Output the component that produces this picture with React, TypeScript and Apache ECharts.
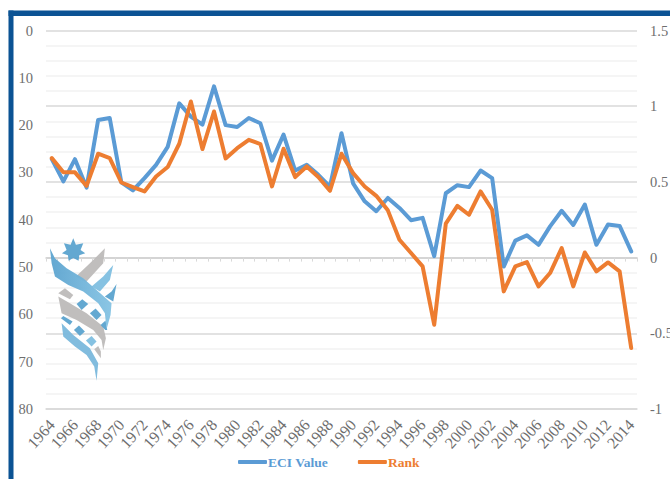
import React, { useEffect, useRef } from "react";
import * as echarts from "echarts";

const years = ["1964","1965","1966","1967","1968","1969","1970","1971","1972","1973","1974","1975","1976","1977","1978","1979","1980","1981","1982","1983","1984","1985","1986","1987","1988","1989","1990","1991","1992","1993","1994","1995","1996","1997","1998","1999","2000","2001","2002","2003","2004","2005","2006","2007","2008","2009","2010","2011","2012","2013","2014"];
const eciValue = [27.2,31.9,27.2,33.2,18.9,18.5,32.1,33.8,31.2,28.4,24.6,15.4,18.2,19.9,11.8,20,20.4,18.5,19.6,27.5,22,29.6,28.4,30.5,33,21.7,32.3,36.1,38.2,35.4,37.5,40.1,39.6,47.7,34.4,32.7,33.1,29.6,31.2,49.9,44.4,43.3,45.3,41.4,38.1,41.1,36.8,45.3,41,41.3,46.7];
const rank = [0.657,0.563,0.563,0.474,0.686,0.657,0.496,0.466,0.437,0.536,0.598,0.752,1.031,0.717,0.965,0.655,0.723,0.778,0.75,0.47,0.719,0.532,0.602,0.532,0.441,0.686,0.558,0.47,0.408,0.312,0.118,0.03,-0.058,-0.443,0.224,0.342,0.283,0.437,0.316,-0.223,-0.058,-0.03,-0.19,-0.102,0.063,-0.19,0.034,-0.091,-0.032,-0.091,-0.597];

const BLUE = "#5B9BD5";
const ORANGE = "#ED7D31";
const FRAME = "#0B5394";
const LABEL = "#6E6E6E";
const FONT = "'Liberation Serif', serif";

const logoPieces: [number[][], any][] = [
  [[[315,55],[310,100],[258,157],[228,140],[270,100]], "#BDBBB9"],
  [[[340,105],[330,150],[300,185],[275,170],[310,140]], "#7FBFE0"],
  [[[350,162],[340,215],[315,200],[335,185]], "#5BA3CF"],
  [[[175,190],[195,175],[220,195],[210,208]], "#BDBBB9"],
  [[[175,200],[210,220],[260,250],[310,290],[318,325],[310,360],[305,330],[280,300],[230,270],[185,250]], "#BDBBB9"],
  [[[230,222],[247,208],[265,222],[245,240]], "#5BA3CF"],
  [[[270,250],[287,236],[305,255],[290,270]], "#5BA3CF"],
  [[[302,285],[317,272],[322,300],[316,300]], "#5BA3CF"],
  [[[183,265],[190,258],[218,275],[210,285]], "#5BA3CF"],
  [[[222,300],[237,287],[255,305],[240,318]], "#5BA3CF"],
  [[[258,332],[275,318],[290,335],[275,350]], "#7FBFE0"],
  [[[283,358],[295,348],[303,365],[303,385]], "#BDBBB9"],
  [[[185,280],[220,315],[270,355],[295,400],[290,453],[283,410],[260,375],[225,350],[190,320]], "#7AB8DC"],
  [[[150,55],[165,85],[200,115],[250,145],[335,220],[332,255],[320,298],[315,250],[295,220],[250,185],[205,165],[165,140],[155,100]],
    new echarts.graphic.LinearGradient(0, 0, 1, 0, [{ offset: 0, color: "#5BA3CF" }, { offset: 1, color: "#85C3E3" }])],
  [[[220,25],[228,44],[250,40],[242,60],[256,70],[238,76],[236,92],[220,84],[206,92],[204,76],[186,70],[200,60],[192,40],[212,44]], "#5BA3CF"],
];

export default function App() {
  const ref = useRef<HTMLDivElement>(null);
  useEffect(() => {
    document.body.style.margin = "0";
    const chart = echarts.init(ref.current!, undefined, { renderer: "svg", width: 670, height: 479 });
    chart.setOption({
      animation: false,
      backgroundColor: "#ffffff",
      grid: { left: 46, right: 33, top: 30.5, bottom: 70, outerBoundsMode: "none" },
      xAxis: [
        {
          type: "category", data: years, position: "bottom",
          axisLine: { show: true, onZero: false, lineStyle: { color: "#D9D9D9", width: 1.5 } },
          axisTick: { show: false },
          axisLabel: { interval: 1, rotate: 48, margin: 13, fontSize: 16, color: LABEL, fontFamily: FONT },
        },
        {
          type: "category", data: years, position: "bottom",
          axisLine: { show: true, onZero: true, onZeroAxisIndex: 1, lineStyle: { color: "#D0D0D0", width: 1.5 } },
          axisTick: { show: true, interval: 0, length: 4, lineStyle: { color: "#D9D9D9", width: 1 } },
          axisLabel: { show: false },
        },
      ],
      yAxis: [
        {
          type: "value", min: 0, max: 80, interval: 10, inverse: true, position: "left",
          axisLine: { show: false }, axisTick: { show: false }, splitLine: { show: false },
          axisLabel: { margin: 13, fontSize: 14.5, color: LABEL, fontFamily: FONT },
        },
        {
          type: "value", min: -1, max: 1.5, interval: 0.5, position: "right",
          axisLine: { show: false, onZero: false }, axisTick: { show: false },
          splitLine: { show: true, lineStyle: { color: "#D9D9D9", width: 1.5 } },
          minorTick: { show: false, splitNumber: 5 },
          minorSplitLine: { show: true, lineStyle: { color: "#F2F2F2", width: 1.5 } },
          axisLabel: { margin: 13, fontSize: 14.5, color: LABEL, fontFamily: FONT },
        },
      ],
      legend: {
        left: 238, top: 455, padding: 0, icon: "roundRect", itemWidth: 29, itemHeight: 4, itemGap: 30,
        data: [
          { name: "ECI Value", textStyle: { color: BLUE } },
          { name: "Rank", textStyle: { color: ORANGE } },
        ],
        textStyle: { fontSize: 13.5, fontWeight: "bold", fontFamily: FONT, padding: [0, 0, 0, -4] },
      },
      series: [
        {
          name: "ECI Value", type: "line", data: eciValue, xAxisIndex: 0, yAxisIndex: 0,
          symbol: "none", color: BLUE, z: 3,
          lineStyle: { width: 4, color: BLUE, cap: "round", join: "round" },
        },
        {
          name: "Rank", type: "line", data: rank, xAxisIndex: 0, yAxisIndex: 1,
          symbol: "none", color: ORANGE, z: 4,
          lineStyle: { width: 4, color: ORANGE, cap: "round", join: "round" },
        },
      ],
      graphic: [
        { type: "rect", silent: true, z: 10, shape: { x: 8.5, y: 10.5, width: 661.5, height: 5.5 }, style: { fill: FRAME } },
        { type: "rect", silent: true, z: 10, shape: { x: 8.5, y: 10.5, width: 5, height: 468.5 }, style: { fill: FRAME } },
        {
          type: "group", x: 0, y: 230, scaleX: 1 / 3, scaleY: 1 / 3, silent: true,
          children: logoPieces.map(([points, fill]) => ({
            type: "polygon", z: 5, shape: { points }, style: { fill, opacity: 0.95 },
          })),
        },
      ],
    });
    return () => chart.dispose();
  }, []);
  return <div ref={ref} style={{ position: "absolute", left: 0, top: 0, width: 670, height: 479 }} />;
}
